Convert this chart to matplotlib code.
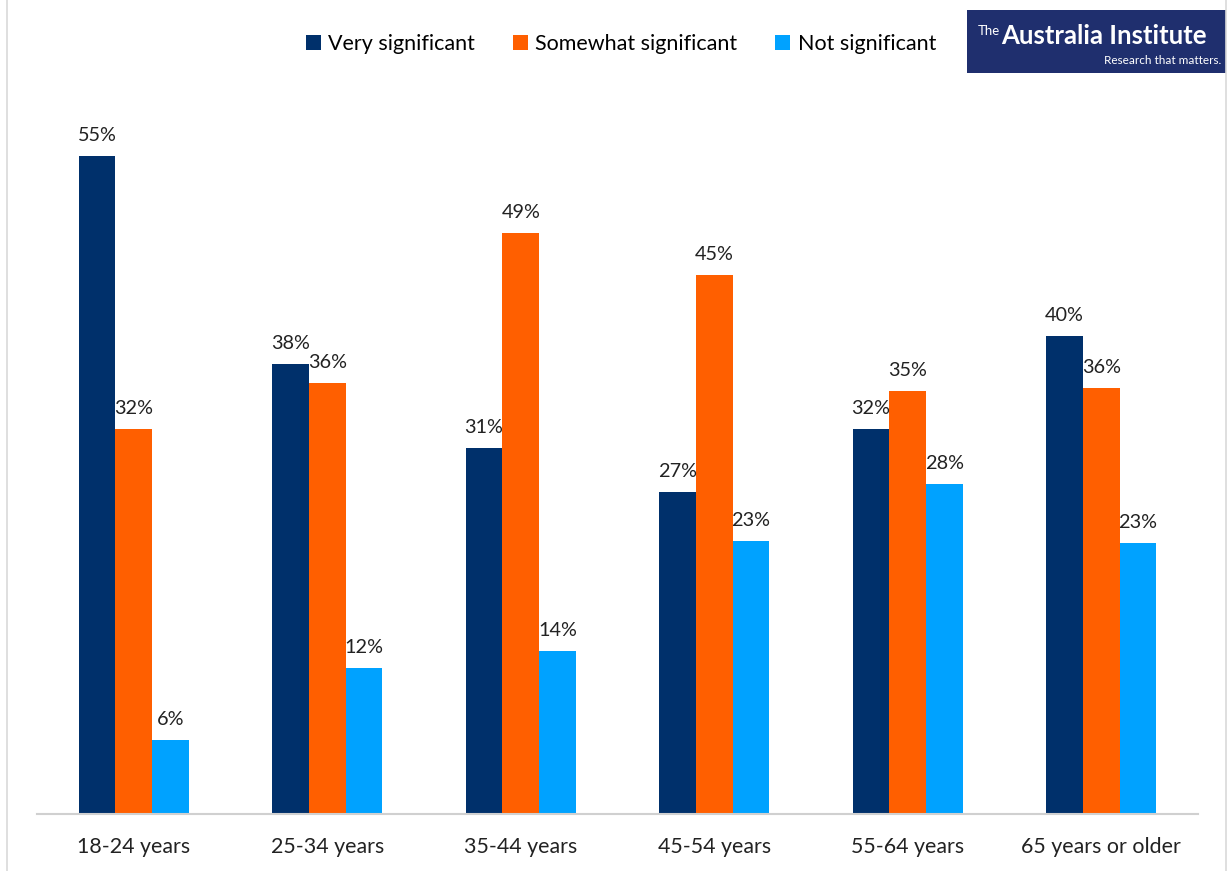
import matplotlib
matplotlib.use("Agg")
import matplotlib.pyplot as plt
from matplotlib.patches import Rectangle
from matplotlib.lines import Line2D
import numpy as np

categories = ["18-24 years", "25-34 years", "35-44 years", "45-54 years", "55-64 years", "65 years or older"]
series_names = ["Very significant", "Somewhat significant", "Not significant"]
very = [55.0, 37.6, 30.6, 26.9, 32.2, 40.0]
somewhat = [32.2, 36.0, 48.6, 45.1, 35.4, 35.6]
not_sig = [6.2, 12.2, 13.6, 22.8, 27.6, 22.7]
colors = ["#00306B", "#FF5F00", "#00A2FF"]

plt.rcParams['font.family'] = ['Lato', 'DejaVu Sans']

W, H = 1229, 871
fig = plt.figure(figsize=(W/100, H/100), dpi=100)
ax = fig.add_axes([37/W, 57/H, (1198-37)/W, 717.6/H])

x = np.arange(len(categories))
bw = 0.19
for i, (vals, name, c) in enumerate(zip([very, somewhat, not_sig], series_names, colors)):
    pos = x + (i - 1) * bw
    ax.bar(pos, vals, width=bw, color=c, label=name)
    for p, v in zip(pos, vals):
        ax.text(p, v + 1.0, f"{round(v)}%", ha="center", va="bottom", fontsize=14.3, color="#222222")

ax.set_xlim(-0.5, len(categories) - 0.5)
ax.set_ylim(0, 60)
ax.set_yticks([])
ax.set_xticks(x)
ax.set_xticklabels(categories, fontsize=15.4, color="#222222")
ax.tick_params(axis="x", length=0, pad=16.5)
for s in ["top", "left", "right"]:
    ax.spines[s].set_visible(False)
ax.spines["bottom"].set_color("#D0D0D0")
ax.spines["bottom"].set_linewidth(1.5)

leg = fig.legend(loc="center", bbox_to_anchor=(621/W, 1 - 44/H), ncol=3, frameon=False,
                 fontsize=15.5, handlelength=0.7, handleheight=0.7, handletextpad=0.35,
                 columnspacing=1.75)

# logo
fig.patches.append(Rectangle((967/W, 1 - 73/H), (1226-967)/W, (73-10)/H,
                             transform=fig.transFigure, facecolor="#1F2F6E", edgecolor="none"))
fig.text(978/W, 1 - 31/H, "The", color="white", fontsize=9.5, va="center", ha="left")
fig.text(1001/W, 1 - 36/H, "Australia Institute", color="white", fontsize=18.5, va="center",
         ha="left", fontweight="bold")
fig.text(1221/W, 1 - 61/H, "Research that matters.", color="white", fontsize=8.5,
         va="center", ha="right")

# border lines
fig.add_artist(Line2D([7/W, 7/W], [0, 1], transform=fig.transFigure, color="#D9D9D9", lw=1.2))
fig.add_artist(Line2D([1226/W, 1226/W], [0, 1], transform=fig.transFigure, color="#D9D9D9", lw=1.2))

fig.savefig("out.png", dpi=100, facecolor="white")
